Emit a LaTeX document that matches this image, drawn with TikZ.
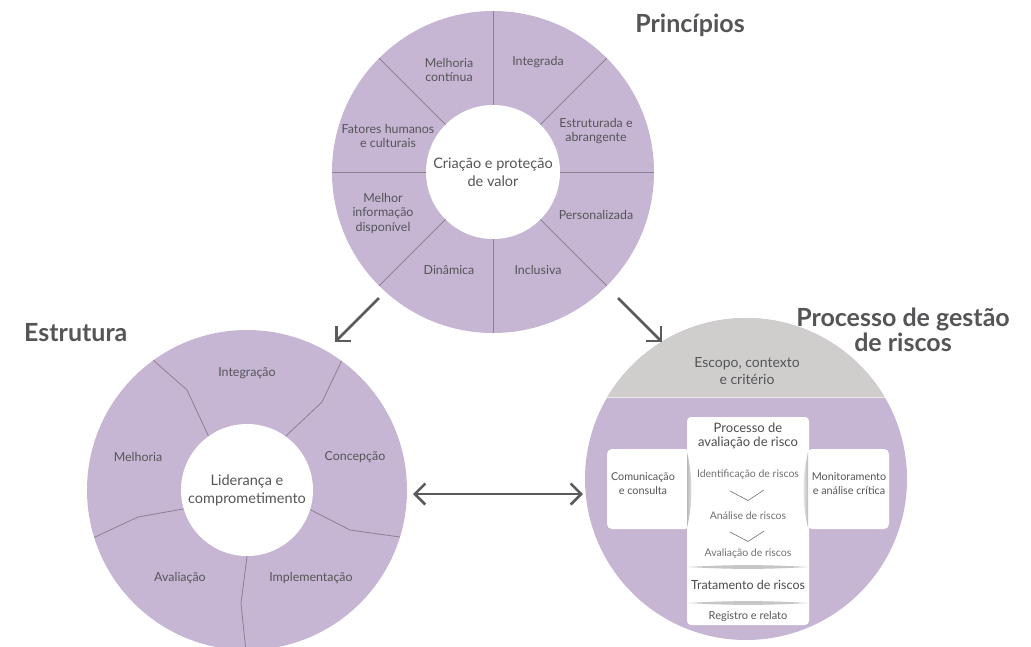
\documentclass[tikz,border=0pt]{standalone}
\usepackage{fontspec}
\setmainfont{Lato}
\usetikzlibrary{arrows.meta}
\definecolor{lilac}{HTML}{C6B6D4}
\definecolor{txt}{HTML}{555557}
\definecolor{capgray}{HTML}{CFCECD}
\definecolor{sepline}{HTML}{8A8090}
\definecolor{arrowc}{HTML}{5A5A5A}
\definecolor{lighttxt}{HTML}{707070}
\newcommand\fsz[2]{\fontsize{#1}{#2}\selectfont}
\begin{document}
\begin{tikzpicture}[x=1pt,y=-1pt,
  lab/.style={font=\fsz{12.4}{14.5}, text=txt, align=center, inner sep=0},
  ctr/.style={font=\fsz{14.5}{18}, text=txt, align=center, inner sep=0},
  ttl/.style={font=\bfseries\fsz{25}{25}, text=txt, align=center, inner sep=0},
  ring/.style={circle, fill=lilac, inner sep=0},
  hole/.style={circle, fill=white, inner sep=0},
  sep/.style={draw=sepline, line width=0.8},
  arr/.style={draw=arrowc, line width=2.5, {Straight Barb[length=10.5pt,width=21pt]}-{Straight Barb[length=10.5pt,width=21pt]}},
  arrend/.style={draw=arrowc, line width=2.5, -{Straight Barb[length=10.5pt,width=21pt]}},
  wbox/.style={fill=white, rounded corners=5, inner sep=0},
  sub/.style={font=\fsz{10.5}{12}, text=lighttxt, inner sep=0},
  hd/.style={font=\fsz{13}{14.5}, text=txt!90!black, align=center, inner sep=0},
  lens/.style={fill=gray!45}
]
\useasboundingbox (0,0) rectangle (1031,646);

% ---------- Principios ----------
\node[ring, minimum size=322] (P) at (493,172) {};
\foreach \a in {0,45,...,315} \draw[sep] (P.center) -- ++(\a:161);
\node[hole, minimum size=134, ctr] (Pc) at (493,172) {Criação e proteção\\de valor};
\node[lab] (p1) at (538,62) {Integrada};
\node[lab] (p2) at (449,70) {Melhoria\\contínua};
\node[lab] (p3) at (388,136) {Fatores humanos\\e culturais};
\node[lab] (p4) at (383,213) {Melhor\\informação\\disponível};
\node[lab] (p5) at (449,270) {Dinâmica};
\node[lab] (p6) at (538,270) {Inclusiva};
\node[lab] (p7) at (596,215) {Personalizada};
\node[lab] (p8) at (596,131) {Estruturada e\\abrangente};
\node[ttl] (tP) at (690,25) {Princípios};

% ---------- Estrutura ----------
\node[ring, minimum size=320] (E) at (247,490) {};
\begin{scope}
\clip (247,490) circle[radius=160];
\draw[sep] (215,452) -- (208,435) -- (187,390) -- (153,360) -- (136,344);
\draw[sep] (280,442) -- (287,435) -- (322,402) -- (342,360) -- (350,343);
\draw[sep] (300,505) -- (311,510) -- (350,530) -- (400,537) -- (416,540);
\draw[sep] (248,547) -- (247,557) -- (241,603) -- (246,652);
\draw[sep] (193,508) -- (183,509) -- (138,517) -- (95,537) -- (78,545);
\end{scope}
\node[hole, minimum size=132, ctr] (Ec) at (247,490) {Liderança e\\comprometimento};
\node[lab] (e1) at (247,373) {Integração};
\node[lab] (e2) at (138,457) {Melhoria};
\node[lab] (e3) at (355,457) {Concepção};
\node[lab] (e4) at (180,578) {Avaliação};
\node[lab] (e5) at (311,578) {Implementação};
\node[ttl, anchor=west] (tE) at (24,333) {Estrutura};

% ---------- Processo de gestao de riscos ----------
\node[ring, minimum size=322] (G) at (746,479) {};
\begin{scope}
\clip (746,479) circle[radius=161];
\fill[capgray] (580,300) rectangle (920,397);
\draw[white!60!capgray, line width=0.7] (580,397) -- (920,397);
\end{scope}
\node[ctr, font=\fsz{14}{17}] (scope) at (747,371) {Escopo, contexto\\e critério};
\node[ttl] (tG) at (903,330) {Processo de gestão\\de riscos};

\node[wbox, minimum width=83, minimum height=80] (L) at (648.5,489) {};
\node[wbox, minimum width=82, minimum height=80] (R) at (848,489) {};
\node[wbox, rounded corners=4, minimum width=122, minimum height=208] (C) at (748,521) {};
\node[lab, font=\fsz{10.8}{14}] (Lt) at (643,484) {Comunicação\\e consulta};
\node[lab, font=\fsz{10.8}{14}] (Rt) at (849,484) {Monitoramento\\e análise crítica};

% side slivers
\shade[left color=gray!55, right color=gray!10] (687,452) .. controls (693,478) and (693,502) .. (687,528) -- cycle;
\shade[right color=gray!55, left color=gray!10] (808,452) .. controls (802,478) and (802,502) .. (808,528) -- cycle;

\node[hd] (h1) at (748,436) {Processo de\\avaliação de risco};
\node[sub] (s1) at (748,475) {Identificação de riscos};
\node[sub] (s2) at (748,516) {Análise de riscos};
\node[sub] (s3) at (748,554) {Avaliação de riscos};
\draw[draw=lighttxt, line width=0.6] (730,491) -- (748,500.5) -- (764,490);
\draw[draw=lighttxt, line width=0.6] (730,532) -- (748,541.5) -- (764,531);
\fill[lens] (688,567) .. controls (730,564.5) and (766,564.5) .. (808,567) .. controls (766,569.5) and (730,569.5) .. (688,567) -- cycle;
\node[hd, font=\fsz{12.5}{14}] (t1) at (748,585) {Tratamento de riscos};
\fill[lens] (688,603) .. controls (730,600.5) and (766,600.5) .. (808,603) .. controls (766,605.5) and (730,605.5) .. (688,603) -- cycle;
\node[lab, font=\fsz{11}{12}] (r1) at (748,616) {Registro e relato};

% ---------- arrows ----------
\coordinate (a1s) at (379,298); \coordinate (a1e) at (335,342);
\coordinate (a2s) at (618,298); \coordinate (a2e) at (662,342);
\coordinate (a3s) at (413,494); \coordinate (a3e) at (583,494);
\draw[arrend] (a1s) -- (a1e);
\draw[arrend] (a2s) -- (a2e);
\draw[arr] (a3s) -- (a3e);
\end{tikzpicture}
\end{document}
